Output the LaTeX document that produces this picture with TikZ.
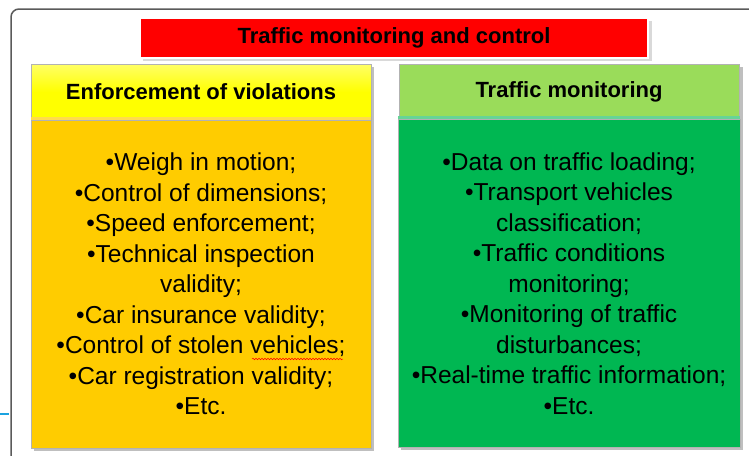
\documentclass[tikz,border=0pt]{standalone}
\usepackage{fontspec}
\setmainfont{Liberation Sans}
\usetikzlibrary{decorations.pathmorphing}
\definecolor{frameGrey}{HTML}{5A5A5A}
\definecolor{titleRed}{HTML}{FF0000}
\definecolor{hdrYellow}{HTML}{FFFF00}
\definecolor{bodyYellow}{HTML}{FFCC00}
\definecolor{hdrGreen}{HTML}{9ADC5A}
\definecolor{bodyGreen}{HTML}{00B752}
\definecolor{lineBlue}{HTML}{1AA3E0}
\tikzset{
  titlebox/.style={fill=titleRed, draw=white, line width=2pt, minimum width=508, minimum height=40, inner sep=0pt,
     font=\bfseries\fontsize{22}{26}\selectfont},
  hdrbox/.style={minimum width=340, minimum height=56, inner sep=0pt, draw=black!30, line width=0.4pt,
     font=\bfseries\fontsize{22}{26}\selectfont},
  bodybox/.style={minimum width=340, minimum height=328, inner sep=0pt, draw=black!30, line width=0.4pt,
     align=center, font=\fontsize{24.5}{30.5}\selectfont},
}
\begin{document}
\begin{tikzpicture}[x=1pt,y=-1pt]
\useasboundingbox (0,0) rectangle (749,455);
% outer frame
\draw[frameGrey, line width=1.5pt, rounded corners=8pt] (11,470) -- (11,9) -- (760,9);
% small blue line at left
\coordinate (bl1) at (0,414);
\coordinate (bl2) at (9,414);
\draw[lineBlue, line width=1.5pt] (bl1) -- (bl2);
% shadows
\fill[black!15] (143,21) rectangle (652,61);
\fill[black!25] (33.5,66.5) rectangle (373.5,450.5);
\fill[black!25] (400.5,66.5) rectangle (742.5,449.5);
% title
\node[titlebox] (title) at (394,38) {\raisebox{-1.5pt}{Traffic monitoring and control}};
% left column
\node[hdrbox, top color=hdrYellow!60!white, bottom color=hdrYellow, middle color=hdrYellow] (lhdr) at (201,92) {\raisebox{-2.5pt}{Enforcement of violations}};
\node[bodybox, fill=bodyYellow] (lbody) at (201,284) {%
\raisebox{-1.5pt}{\parbox{340pt}{\centering
\textbullet Weigh in motion;\\
\textbullet Control of dimensions;\\
\textbullet Speed enforcement;\\
\textbullet Technical inspection\\
validity;\\
\textbullet Car insurance validity;\\
\textbullet Control of stolen vehicles;\\
\textbullet Car registration validity;\\
\textbullet Etc.}}};
\fill[bodyYellow!70!white] (lbody.north west) rectangle ([yshift=3]lbody.north east);
% right column
\node[hdrbox, fill=hdrGreen] (rhdr) at (569,92) {\raisebox{-2.5pt}{Traffic monitoring}};
\node[bodybox, fill=bodyGreen] (rbody) at (569,283.5) {%
\raisebox{-1.5pt}{\parbox{342pt}{\centering
\textbullet Data on traffic loading;\\
\textbullet Transport vehicles\\
classification;\\
\textbullet Traffic conditions\\
monitoring;\\
\textbullet Monitoring of traffic\\
disturbances;\\
\textbullet Real-time traffic information;\\
\textbullet Etc.}}};
\fill[bodyGreen!60!white] (rbody.north west) rectangle ([yshift=3]rbody.north east);
% spell-check underline
\coordinate (sq1) at (252,359);
\coordinate (sq2) at (343,359);
\draw[red, line width=0.5pt, decorate, decoration={snake, amplitude=0.8pt, segment length=3pt}] (sq1) -- (sq2);
\end{tikzpicture}
\end{document}
